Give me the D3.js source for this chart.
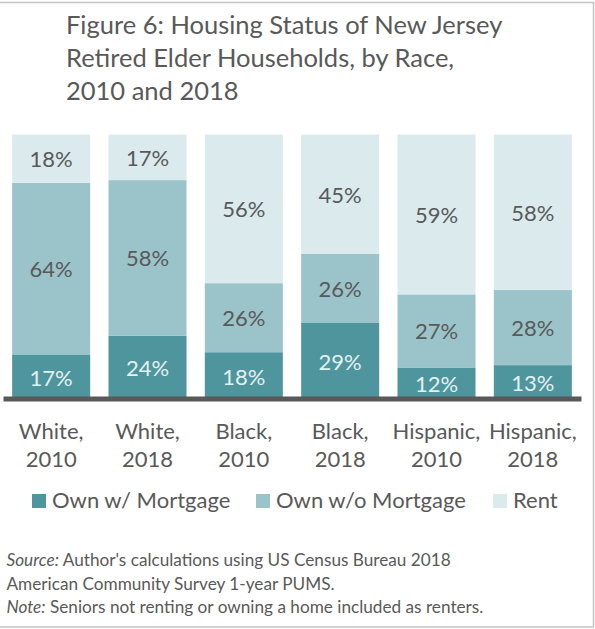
<!DOCTYPE html>
<html>
<head>
<meta charset="utf-8">
<script src="https://cdn.jsdelivr.net/npm/d3@7"></script>
<style>
  html, body { margin: 0; padding: 0; background: #ffffff; }
  svg { display: block; }
  text { font-family: Lato, "Open Sans", sans-serif; }
</style>
</head>
<body>
<svg id="chart" width="595" height="629"></svg>
<script>
// Housing status shares (percent) for each race / year group
const categories = ["White, 2010", "White, 2018", "Black, 2010", "Black, 2018", "Hispanic, 2010", "Hispanic, 2018"];
const ownWithMortgage = [17, 24, 18, 29, 12, 13];
const ownWithoutMortgage = [64, 58, 26, 26, 27, 28];
const rent = [18, 17, 56, 45, 59, 58];

const seriesKeys = ["Own w/ Mortgage", "Own w/o Mortgage", "Rent"];
const seriesValues = [ownWithMortgage, ownWithoutMortgage, rent];
const titleLines = ["Figure 6: Housing Status of New Jersey", "Retired Elder Households, by Race,", "2010 and 2018"];

const fills = ["#4f959d", "#9bc4ca", "#dbebed"];
const labelFills = ["#e2f1f2", "#595959", "#595959"];
const textGrey = "#595959";

const rows = categories.map((c, i) => {
  const r = { category: c };
  seriesKeys.forEach((k, j) => { r[k] = seriesValues[j][i]; });
  return r;
});

const svg = d3.select("#chart");

// outer frame
svg.append("rect")
  .attr("x", -1).attr("y", 2.5)
  .attr("width", 594.5).attr("height", 624.5)
  .attr("fill", "none")
  .attr("stroke", "#c4c4c4")
  .attr("stroke-width", 1.5);

// title
svg.append("g").selectAll("text")
  .data(titleLines)
  .join("text")
  .attr("x", 66)
  .attr("y", (d, i) => 34 + i * 33)
  .attr("fill", textGrey)
  .attr("font-size", 25.5)
  .text(d => d);

const x = d3.scaleBand()
  .domain(categories)
  .range([3, 581])
  .paddingInner(0.19)
  .paddingOuter(0.095);

const y = d3.scaleLinear()
  .domain([0, 1])
  .range([400, 134.5]);

const stacked = d3.stack()
  .keys(seriesKeys)
  .offset(d3.stackOffsetExpand)(rows);

const layers = svg.append("g").selectAll("g")
  .data(stacked)
  .join("g")
  .attr("fill", (d, i) => fills[i]);

layers.selectAll("rect")
  .data(d => d)
  .join("rect")
  .attr("x", d => x(d.data.category))
  .attr("width", x.bandwidth())
  .attr("y", d => y(d[1]))
  .attr("height", d => y(d[0]) - y(d[1]));

// segment value labels
const labelSize = 22;
layers.each(function (layer, li) {
  d3.select(this).selectAll("text")
    .data(layer)
    .join("text")
    .attr("x", d => x(d.data.category) + x.bandwidth() / 2)
    .attr("y", d => (y(d[0]) + y(d[1])) / 2 + 8.5)
    .attr("text-anchor", "middle")
    .attr("font-size", labelSize)
    .attr("fill", labelFills[li])
    .text(d => d.data[layer.key] + "%");
});

// baseline axis
const xAxis = d3.axisBottom(x).tickSize(0).tickFormat("");
const axisG = svg.append("g")
  .attr("transform", "translate(0,398.5)")
  .call(xAxis);
axisG.select(".domain")
  .attr("stroke", "#595959")
  .attr("stroke-width", 5);

// two-line category labels
const catG = svg.append("g");
categories.forEach(c => {
  const parts = c.split(", ");
  const t = catG.append("text")
    .attr("text-anchor", "middle")
    .attr("font-size", labelSize)
    .attr("fill", textGrey);
  t.append("tspan")
    .attr("x", x(c) + x.bandwidth() / 2)
    .attr("y", 438.5)
    .text(parts[0] + ",");
  t.append("tspan")
    .attr("x", x(c) + x.bandwidth() / 2)
    .attr("y", 466.5)
    .text(parts[1]);
});

// legend
const legendX = [32, 256, 493];
const legend = svg.append("g").selectAll("g")
  .data(seriesKeys)
  .join("g")
  .attr("transform", (d, i) => `translate(${legendX[i]},494)`);
legend.append("rect")
  .attr("width", 14).attr("height", 14)
  .attr("fill", (d, i) => fills[i]);
legend.append("text")
  .attr("x", 20)
  .attr("y", 14)
  .attr("font-size", labelSize)
  .attr("fill", textGrey)
  .text(d => d);

// source and note
const notes = [
  [["Source:", true], [" Author's calculations using US Census Bureau 2018", false]],
  [["American Community Survey 1-year PUMS.", false]],
  [["Note:", true], [" Seniors not renting or owning a home included as renters.", false]]
];
const noteG = svg.append("g");
notes.forEach((line, i) => {
  const t = noteG.append("text")
    .attr("x", 6.5)
    .attr("y", 566 + i * 23.5)
    .attr("font-size", 17.2)
    .attr("fill", textGrey)
    .attr("xml:space", "preserve");
  line.forEach(([s, it]) => {
    t.append("tspan")
      .attr("font-style", it ? "italic" : "normal")
      .text(s);
  });
});
</script>
</body>
</html>
